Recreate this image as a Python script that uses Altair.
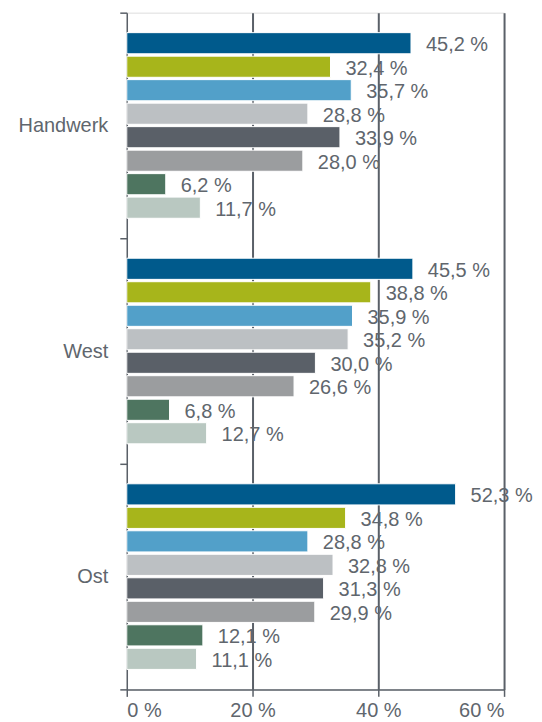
import altair as alt
import pandas as pd

groups = ["Handwerk", "West", "Ost"]
series = ["S1", "S2", "S3", "S4", "S5", "S6", "S7", "S8"]
colors = ["#005a8c", "#a7b51b", "#52a0c9", "#bcc0c3", "#5a6068", "#9b9d9f", "#4e7560", "#b9c8c1"]
handwerk = [45.2, 32.4, 35.7, 28.8, 33.9, 28.0, 6.2, 11.7]
west = [45.5, 38.8, 35.9, 35.2, 30.0, 26.6, 6.8, 12.7]
ost = [52.3, 34.8, 28.8, 32.8, 31.3, 29.9, 12.1, 11.1]

rows = []
for g, vals in zip(groups, [handwerk, west, ost]):
    for s, v in zip(series, vals):
        rows.append({"group": g, "series": s, "value": v,
                     "label": f"{v:.1f}".replace(".", ",") + " %"})
df = pd.DataFrame(rows)

FONT = "Liberation Sans"
TXT = "#60666d"
LINE = "#5a6068"

y_enc = alt.Y("group:N", sort=groups, title=None,
              scale=alt.Scale(paddingInner=0, paddingOuter=0),
              axis=alt.Axis(tickBand="extent", labelFontSize=20, labelColor=TXT,
                            labelFont=FONT, labelPadding=12, tickSize=7,
                            tickColor=LINE, domainColor=LINE,
                            tickWidth=1.5, domainWidth=1.5, grid=False))
yoff = alt.YOffset("series:N", sort=series,
                   scale=alt.Scale(paddingInner=0.1, paddingOuter=0.85))
x_enc = alt.X("value:Q", title=None,
              scale=alt.Scale(domain=[0, 60], nice=False),
              axis=alt.Axis(values=[0, 20, 40, 60], labelExpr="datum.value + ' %'",
                            labelFontSize=20, labelColor=TXT, labelFont=FONT,
                            labelPadding=4, tickSize=7, tickColor=LINE,
                            domainColor=LINE, tickWidth=1.5, domainWidth=1.5,
                            grid=True, gridColor=LINE, gridWidth=2,
                            gridOpacity=alt.expr("datum.value == 0 ? 0 : 1")))

bars = alt.Chart(df).mark_bar(stroke="white", strokeWidth=1).encode(
    y=y_enc, yOffset=yoff, x=x_enc,
    color=alt.Color("series:N", sort=series,
                    scale=alt.Scale(domain=series, range=colors), legend=None))

text = alt.Chart(df).mark_text(align="left", baseline="middle", dx=15, dy=2,
                               fontSize=20, color=TXT, font=FONT).encode(
    y=alt.Y("group:N", sort=groups), yOffset=yoff,
    x=alt.X("value:Q"), text="label:N")

chart = alt.layer(bars, text).properties(
    width=378, height=678,
    autosize=alt.AutoSizeParams(type="none"),
    padding={"left": 119, "top": 4, "right": 30, "bottom": 34},
).configure_view(stroke=None).configure(background="white")

chart.save("out.html", embed_options={"renderer": "svg", "actions": False})
